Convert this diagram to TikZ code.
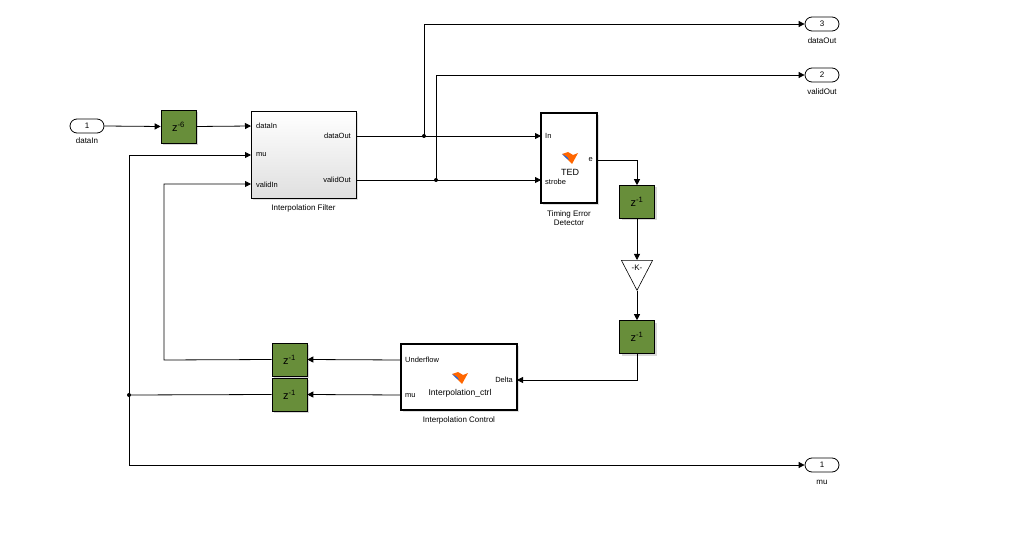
\documentclass[tikz,border=0pt]{standalone}
\usepackage{fontspec}
\setmainfont{Liberation Sans}
\usetikzlibrary{arrows.meta,shadows,shapes.geometric,calc}
\definecolor{zgreen}{RGB}{104,142,58}
\tikzset{
  sig/.style={draw=black,line width=0.8pt,-{Triangle[length=6pt,width=6pt]}},
  wire/.style={draw=black,line width=0.8pt},
  zbox/.style={draw=black,fill=zgreen,line width=0.6pt,minimum width=35pt,minimum height=33pt,inner sep=0pt,font=\fontsize{11}{11}\selectfont,drop shadow={shadow xshift=2pt,shadow yshift=-2pt,fill=gray!60}},
  port/.style={draw=black,line width=0.8pt,rounded corners=7pt,minimum width=34pt,minimum height=14pt,inner sep=0pt,font=\fontsize{8}{8}\selectfont,fill=white},
  lbl/.style={font=\fontsize{8}{9}\selectfont,inner sep=1pt},
  plbl/.style={font=\fontsize{7.5}{8}\selectfont,inner sep=1pt},
  dot/.style={circle,fill=black,inner sep=0pt,minimum size=4pt},
  fbox/.style={draw=black,line width=1.6pt,fill=white,inner sep=0pt,drop shadow={shadow xshift=2pt,shadow yshift=-2pt,fill=gray!50}},
}
\newcommand{\mlicon}[1]{%
  \fill[orange!80!red] ($#1+(-8,-3)$) -- ($#1+(-2,3)$) -- ($#1+(2,7)$) -- ($#1+(8,-4)$) -- ($#1+(3,-2)$) -- ($#1+(-2,-5)$) -- cycle;
  \fill[blue!60!cyan] ($#1+(-8,-3)$) -- ($#1+(-3,0)$) -- ($#1+(-1,3)$) -- ($#1+(-4,1)$) -- cycle;}
\begin{document}
\begin{tikzpicture}[x=1pt,y=-1pt]
\useasboundingbox (0,0) rectangle (1018,556);
% ports
\node[port] (in1) at (87,126) {1};
\node[lbl] at (87,141) {dataIn};
\node[port] (out3) at (822,24) {3};
\node[lbl] at (822,41) {dataOut};
\node[port] (out2) at (822,75) {2};
\node[lbl] at (822,92) {validOut};
\node[port] (out1) at (822,465) {1};
\node[lbl] at (822,482) {mu};
% delay z^-6
\node[zbox] (z6) at (178.5,126.5) {z\textsuperscript{-6}};
% interpolation filter
\shade[top color=white,bottom color=gray!25,drop shadow={shadow xshift=2pt,shadow yshift=-2pt,fill=gray!50}] (251,111) rectangle (356,198);
\node[draw=black,line width=0.6pt,minimum width=105pt,minimum height=87pt,inner sep=0pt] (IF) at (303.5,154.5) {};
\node[plbl,anchor=west] at (255,126) {dataIn};
\node[plbl,anchor=west] at (255,155) {mu};
\node[plbl,anchor=west] at (255,185) {validIn};
\node[plbl,anchor=east] at (352,136) {dataOut};
\node[plbl,anchor=east] at (352,180) {validOut};
\node[lbl] at (303.5,208) {Interpolation Filter};
% TED
\node[fbox,minimum width=56pt,minimum height=90pt] (TED) at (569,158) {};
\node[plbl,anchor=west] at (544,136) {In};
\node[plbl,anchor=west] at (544,182) {strobe};
\node[plbl,anchor=east] at (594,160) {e};
\mlicon{(570,157)}
\node[lbl,font=\fontsize{9}{9}\selectfont] at (570,172) {TED};
\node[lbl,align=center] at (569,218) {Timing Error\\Detector};
% right chain
\node[zbox] (zA) at (637,202) {z\textsuperscript{-1}};
\node[draw=black,line width=0.6pt,fill=white,isosceles triangle,isosceles triangle apex angle=55,shape border rotate=-90,minimum height=30pt,inner sep=0pt,anchor=north] (K) at (637,260) {};
\node[font=\fontsize{8}{8}\selectfont] at (637,268) {-K-};
\node[zbox] (zB) at (637,337) {z\textsuperscript{-1}};
% interpolation control
\node[fbox,minimum width=116pt,minimum height=66pt] (IC) at (459,377) {};
\node[plbl,anchor=west] at (404,360) {Underflow};
\node[plbl,anchor=west] at (404,396) {mu};
\node[plbl,anchor=east] at (514,380) {Delta};
\mlicon{(460,377)}
\node[lbl,font=\fontsize{8.5}{9}\selectfont] at (460,393) {Interpolation\_ctrl};
\node[lbl] at (459,420) {Interpolation Control};
% left delays
\node[zbox] (zC) at (289.5,359.5) {z\textsuperscript{-1}};
\node[zbox] (zD) at (289.5,394.5) {z\textsuperscript{-1}};
% junctions
\coordinate (j1) at (424,136);
\coordinate (j2) at (436,180);
\coordinate (j3) at (129,395);
\node[dot] at (j1) {};
\node[dot] at (j2) {};
\node[dot] at (j3) {};
% wires
\draw[sig] (in1.east) -- (z6.west);
\draw[sig] (z6.east) -- (251,126);
\draw[sig] (356,136) -- (541,136);
\draw[sig] (356,180) -- (541,180);
\draw[sig] (j1) |- (out3.west);
\draw[sig] (j2) |- (out2.west);
\draw[sig] (597,160) -| (zA.north);
\draw[sig] (zA.south) -- (K.north);
\draw[sig] (K.south) -- (zB.north);
\draw[sig] (zB.south) |- (517,380);
\draw[sig] (401,360) -- (zC.east);
\draw[sig] (401,395) -- (zD.east);
\draw[sig] (zC.west) -- (164,360) -- (164,184) -- (251,184);
\draw[wire] (zD.west) -- (j3);
\draw[sig] (j3) -- (129,155) -- (251,155);
\draw[sig] (j3) |- (out1.west);
\end{tikzpicture}
\end{document}
